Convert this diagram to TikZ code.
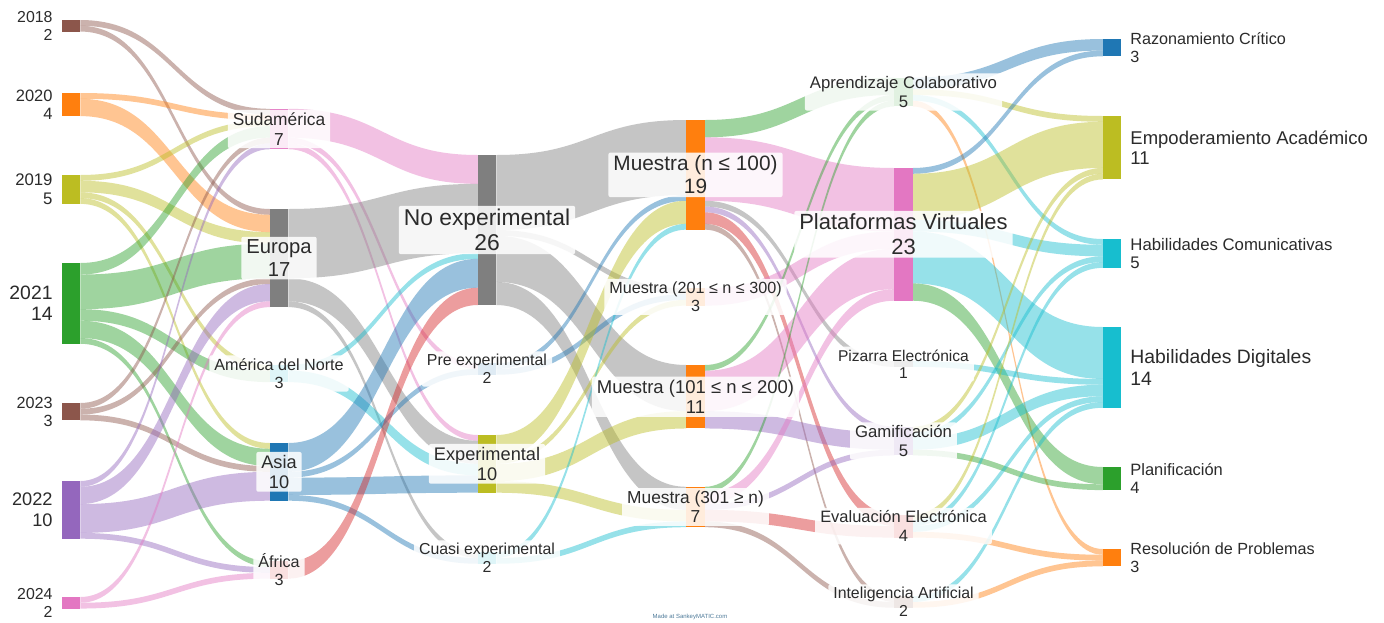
\documentclass[tikz,border=0pt]{standalone}
\usepackage{fontspec}
\setmainfont{Liberation Sans}
\usetikzlibrary{calc}
\pgfdeclarelayer{flows}
\pgfdeclarelayer{labels}
\pgfsetlayers{flows,main,labels}
\definecolor{kblue}{HTML}{1F77B4}
\definecolor{korange}{HTML}{FF7F0E}
\definecolor{kgreen}{HTML}{2CA02C}
\definecolor{kred}{HTML}{D62728}
\definecolor{kpurple}{HTML}{9467BD}
\definecolor{kbrown}{HTML}{8C564B}
\definecolor{kpink}{HTML}{E377C2}
\definecolor{kgray}{HTML}{7F7F7F}
\definecolor{kolive}{HTML}{BCBD22}
\definecolor{kcyan}{HTML}{17BECF}
\definecolor{ktxt}{HTML}{2B2B2B}
\def\U{5.77}
\newcommand\lf[1]{\pgfmathsetmacro\fsz{15.3+0.29*#1}\pgfmathsetmacro\fbs{1.12*\fsz}\fontsize{\fsz pt}{\fbs pt}\selectfont}
\newcommand\flw[4]{%
  \ifcsname fo@#1\endcsname\else\expandafter\gdef\csname fo@#1\endcsname{0}\fi
  \ifcsname fi@#2\endcsname\else\expandafter\gdef\csname fi@#2\endcsname{0}\fi
  \edef\flA{\csname fo@#1\endcsname}%
  \edef\flB{\csname fi@#2\endcsname}%
  \pgfmathsetmacro\flW{#3*\U}%
  \path (#1.north east) ++(0,\flA) coordinate (A0) ++(0,\flW) coordinate (A1);
  \path (#2.north west) ++(0,\flB) coordinate (B0) ++(0,\flW) coordinate (B1);
  \path ($(A0)!.5!(B0)$) coordinate (M);
  \fill[flow=#4] (A0) .. controls (A0 -| M) and (B0 -| M) .. (B0) -- (B1)
     .. controls (B1 -| M) and (A1 -| M) .. (A1) -- cycle;
  \pgfmathsetmacro\flA{\flA+\flW}\expandafter\xdef\csname fo@#1\endcsname{\flA}%
  \pgfmathsetmacro\flB{\flB+\flW}\expandafter\xdef\csname fi@#2\endcsname{\flB}%
}
\begin{document}
\begin{tikzpicture}[x=1pt,y=-1pt,
  bar/.style 2 args={rectangle, fill=#1, draw=none, inner sep=0pt, outer sep=0pt,
     minimum width=18.5pt, minimum height={#2*\U*1pt}, anchor=north},
  flow/.style={fill=#1, fill opacity=0.45, draw=none},
  mid/.style={fill=white, fill opacity=0.86, text opacity=1, text=ktxt, align=center,
     inner xsep=5pt, inner ysep=3pt, rounded corners=2pt},
  lft/.style={anchor=east, align=right, inner sep=0pt, text=ktxt},
  rgt/.style={anchor=west, align=left, inner sep=0pt, text=ktxt}]
\useasboundingbox (0,0) rectangle (1384,622);
% ---------- nodes (bars) ----------
\node[bar={kbrown}{2}]  (y18) at (71,20) {};
\node[bar={korange}{4}] (y20) at (71,93) {};
\node[bar={kolive}{5}]  (y19) at (71,175) {};
\node[bar={kgreen}{14}] (y21) at (71,263) {};
\node[bar={kbrown}{3}]  (y23) at (71,403) {};
\node[bar={kpurple}{10}] (y22) at (71,481) {};
\node[bar={kpink}{2}]   (y24) at (71,597) {};
\node[bar={kpink}{7}]   (sud) at (279,108.8) {};
\node[bar={kgray}{17}]  (eur) at (279,209) {};
\node[bar={kcyan}{3}]   (amn) at (279,364.8) {};
\node[bar={kblue}{10}]  (asia) at (279,443) {};
\node[bar={kred}{3}]    (afr) at (279,561.3) {};
\node[bar={kgray}{26}]  (noexp) at (487,155) {};
\node[bar={kblue}{2}]   (pre) at (487,363.2) {};
\node[bar={kolive}{10}] (exp) at (487,435) {};
\node[bar={kcyan}{2}]   (cua) at (487,552.2) {};
\node[bar={korange}{19}] (m100) at (695.5,120) {};
\node[bar={korange}{3}]  (m300) at (695.5,288.3) {};
\node[bar={korange}{11}] (m200) at (695.5,365) {};
\node[bar={korange}{7}]  (m301) at (695.5,486.8) {};
\node[bar={kgreen}{5}]   (apr) at (903.5,77.6) {};
\node[bar={kpink}{23}]   (plat) at (903.5,168) {};
\node[bar={kgray}{1}]    (piz) at (903.5,361.1) {};
\node[bar={kpurple}{5}]  (gam) at (903.5,426.6) {};
\node[bar={kred}{4}]     (eva) at (903.5,514.5) {};
\node[bar={kbrown}{2}]   (ia) at (903.5,596.2) {};
\node[bar={kblue}{3}]    (raz) at (1112,39) {};
\node[bar={kolive}{11}]  (emp) at (1112,116) {};
\node[bar={kcyan}{5}]    (hcom) at (1112,239) {};
\node[bar={kcyan}{14}]   (hdig) at (1112,327) {};
\node[bar={kgreen}{4}]   (pla) at (1112,467) {};
\node[bar={korange}{3}]  (res) at (1112,549) {};
% ---------- flows ----------
\begin{pgfonlayer}{flows}
\fill[white] (0,0) rectangle (1384,622);
\flw{y18}{sud}{1}{kbrown}\flw{y18}{eur}{1}{kbrown}
\flw{y20}{sud}{1}{korange}\flw{y20}{eur}{3}{korange}
\flw{y19}{sud}{1}{kolive}\flw{y19}{eur}{2}{kolive}\flw{y19}{amn}{1}{kolive}\flw{y19}{asia}{1}{kolive}
\flw{y21}{sud}{2}{kgreen}\flw{y21}{eur}{6}{kgreen}\flw{y21}{amn}{2}{kgreen}\flw{y21}{asia}{3}{kgreen}\flw{y21}{afr}{1}{kgreen}
\flw{y23}{sud}{1}{kbrown}\flw{y23}{eur}{1}{kbrown}\flw{y23}{asia}{1}{kbrown}
\flw{y22}{sud}{1}{kpurple}\flw{y22}{eur}{3}{kpurple}\flw{y22}{asia}{5}{kpurple}\flw{y22}{afr}{1}{kpurple}
\flw{y24}{eur}{1}{kpink}\flw{y24}{afr}{1}{kpink}
%
\flw{sud}{noexp}{5}{kpink}\flw{sud}{pre}{1}{kpink}\flw{sud}{exp}{1}{kpink}
\flw{eur}{noexp}{12}{kgray}\flw{eur}{exp}{4}{kgray}\flw{eur}{cua}{1}{kgray}
\flw{amn}{noexp}{1}{kcyan}\flw{amn}{exp}{2}{kcyan}
\flw{asia}{noexp}{5}{kblue}\flw{asia}{pre}{1}{kblue}\flw{asia}{exp}{3}{kblue}\flw{asia}{cua}{1}{kblue}
\flw{afr}{noexp}{3}{kred}
%
\flw{noexp}{m100}{13}{kgray}\flw{noexp}{m300}{1}{kgray}\flw{noexp}{m200}{8}{kgray}\flw{noexp}{m301}{4}{kgray}
\flw{pre}{m100}{1}{kblue}\flw{pre}{m300}{1}{kblue}
\flw{exp}{m100}{4}{kolive}\flw{exp}{m300}{1}{kolive}\flw{exp}{m200}{3}{kolive}\flw{exp}{m301}{2}{kolive}
\flw{cua}{m100}{1}{kcyan}\flw{cua}{m301}{1}{kcyan}
%
\flw{m100}{apr}{3}{kgreen}\flw{m100}{plat}{11}{kpink}\flw{m100}{piz}{1}{kgray}\flw{m100}{gam}{1}{kpurple}\flw{m100}{eva}{2}{kred}\flw{m100}{ia}{1}{kbrown}
\flw{m300}{plat}{3}{kpink}
\flw{m200}{apr}{1}{kgreen}\flw{m200}{plat}{7}{kpink}\flw{m200}{gam}{3}{kpurple}
\flw{m301}{apr}{1}{kgreen}\flw{m301}{plat}{2}{kpink}\flw{m301}{gam}{1}{kpurple}\flw{m301}{eva}{2}{kred}\flw{m301}{ia}{1}{kbrown}
%
\flw{apr}{raz}{2}{kblue}\flw{apr}{emp}{1}{kolive}\flw{apr}{hcom}{1}{kcyan}\flw{apr}{res}{1}{korange}
\flw{plat}{raz}{1}{kblue}\flw{plat}{emp}{8}{kolive}\flw{plat}{hcom}{2}{kcyan}\flw{plat}{hdig}{9}{kcyan}\flw{plat}{pla}{3}{kgreen}
\flw{piz}{hdig}{1}{kcyan}
\flw{gam}{emp}{1}{kolive}\flw{gam}{hcom}{1}{kcyan}\flw{gam}{hdig}{2}{kcyan}\flw{gam}{pla}{1}{kgreen}
\flw{eva}{emp}{1}{kolive}\flw{eva}{hcom}{1}{kcyan}\flw{eva}{hdig}{1}{kcyan}\flw{eva}{res}{1}{korange}
\flw{ia}{hdig}{1}{kcyan}\flw{ia}{res}{1}{korange}
\end{pgfonlayer}
% ---------- labels ----------
\begin{pgfonlayer}{labels}
\node[lft, font=\lf{2}]  (t18) at ([xshift=-9pt]y18.west) {2018\\2};
\node[lft, font=\lf{4}]  (t20) at ([xshift=-9pt]y20.west) {2020\\4};
\node[lft, font=\lf{5}]  (t19) at ([xshift=-9pt]y19.west) {2019\\5};
\node[lft, font=\lf{14}] (t21) at ([xshift=-9pt]y21.west) {2021\\14};
\node[lft, font=\lf{3}]  (t23) at ([xshift=-9pt]y23.west) {2023\\3};
\node[lft, font=\lf{10}] (t22) at ([xshift=-9pt]y22.west) {2022\\10};
\node[lft, font=\lf{2}]  (t24) at ([xshift=-9pt]y24.west) {2024\\2};
\node[mid, font=\lf{7}]  (tsud) at (sud) {Sudamérica\\7};
\node[mid, font=\lf{17}] (teur) at (eur) {Europa\\17};
\node[mid, font=\lf{3}]  (tamn) at (amn) {América del Norte\\3};
\node[mid, font=\lf{10}] (tasia) at (asia) {Asia\\10};
\node[mid, font=\lf{3}]  (tafr) at (afr) {África\\3};
\node[mid, font=\lf{26}] (tnoexp) at (noexp) {No experimental\\26};
\node[mid, font=\lf{2}]  (tpre) at (pre) {Pre experimental\\2};
\node[mid, font=\lf{10}] (texp) at (exp) {Experimental\\10};
\node[mid, font=\lf{2}]  (tcua) at (cua) {Cuasi experimental\\2};
\node[mid, font=\lf{19}] (tm100) at (m100) {Muestra (n ≤ 100)\\19};
\node[mid, font=\lf{3}]  (tm300) at (m300) {Muestra (201 ≤ n ≤ 300)\\3};
\node[mid, font=\lf{11}] (tm200) at (m200) {Muestra (101 ≤ n ≤ 200)\\11};
\node[mid, font=\lf{7}]  (tm301) at (m301) {Muestra (301 ≥ n)\\7};
\node[mid, font=\lf{5}]  (tapr) at (apr) {Aprendizaje Colaborativo\\5};
\node[mid, font=\lf{23}] (tplat) at (plat) {Plataformas Virtuales\\23};
\node[mid, font=\lf{1}]  (tpiz) at (piz) {Pizarra Electrónica\\1};
\node[mid, font=\lf{5}]  (tgam) at (gam) {Gamificación\\5};
\node[mid, font=\lf{4}]  (teva) at (eva) {Evaluación Electrónica\\4};
\node[mid, font=\lf{2}]  (tia) at (ia) {Inteligencia Artificial\\2};
\node[rgt, font=\lf{3}]  (traz) at ([xshift=9pt]raz.east) {Razonamiento Crítico\\3};
\node[rgt, font=\lf{11}] (temp) at ([xshift=9pt]emp.east) {Empoderamiento Académico\\11};
\node[rgt, font=\lf{5}]  (thcom) at ([xshift=9pt]hcom.east) {Habilidades Comunicativas\\5};
\node[rgt, font=\lf{14}] (thdig) at ([xshift=9pt]hdig.east) {Habilidades Digitales\\14};
\node[rgt, font=\lf{4}]  (tpla) at ([xshift=9pt]pla.east) {Planificación\\4};
\node[rgt, font=\lf{3}]  (tres) at ([xshift=9pt]res.east) {Resolución de Problemas\\3};
\node[font=\fontsize{6}{7}\selectfont, text=kblue!50!gray] (wm) at (690,617) {Made at SankeyMATIC.com};
\end{pgfonlayer}
\end{tikzpicture}
\end{document}
